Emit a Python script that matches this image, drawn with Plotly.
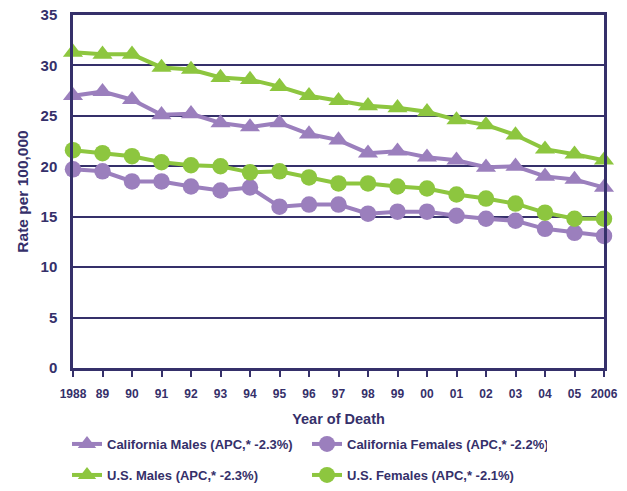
import plotly.graph_objects as go

years = list(range(1988, 2007))
year_labels = ["1988", "89", "90", "91", "92", "93", "94", "95", "96", "97",
               "98", "99", "00", "01", "02", "03", "04", "05", "2006"]

ca_males = [27.0, 27.4, 26.6, 25.1, 25.2, 24.3, 23.9, 24.3, 23.2, 22.6,
            21.3, 21.5, 20.9, 20.6, 19.9, 20.0, 19.0, 18.7, 17.9]
ca_females = [19.7, 19.5, 18.5, 18.5, 18.0, 17.6, 17.9, 16.0, 16.2, 16.2,
              15.3, 15.5, 15.5, 15.1, 14.8, 14.6, 13.8, 13.4, 13.1]
us_males = [31.3, 31.1, 31.1, 29.8, 29.6, 28.8, 28.6, 27.9, 27.0, 26.5,
            26.0, 25.8, 25.4, 24.6, 24.1, 23.1, 21.7, 21.2, 20.6]
us_females = [21.6, 21.3, 21.0, 20.4, 20.1, 20.0, 19.4, 19.5, 18.9, 18.3,
              18.3, 18.0, 17.8, 17.2, 16.8, 16.3, 15.4, 14.8, 14.8]

series_names = ["California Males (APC,* -2.3%)", "California Females (APC,* -2.2%)",
                "U.S. Males (APC,* -2.3%)", "U.S. Females (APC,* -2.1%)"]

PURPLE = "#9b7fbd"
GREEN = "#8dc63f"
NAVY = "#35306a"
FONT = "Liberation Sans, Arial, sans-serif"

W, H = 627, 491

fig = go.Figure()
specs = [
    (ca_males, series_names[0], PURPLE, "triangle-up", 17.5, "legend"),
    (ca_females, series_names[1], PURPLE, "circle", 16.5, "legend"),
    (us_males, series_names[2], GREEN, "triangle-up", 17.5, "legend2"),
    (us_females, series_names[3], GREEN, "circle", 16.5, "legend2"),
]
for vals, name, col, sym, sz, lg in specs:
    fig.add_trace(go.Scatter(
        x=years, y=vals, name=name, mode="lines+markers",
        line=dict(color=col, width=4),
        marker=dict(symbol=sym, size=sz, color=col),
        cliponaxis=False, legend=lg,
    ))

legend_common = dict(
    orientation="h", xanchor="left", yanchor="middle",
    xref="container", yref="container",
    font=dict(family=FONT, size=13, color=NAVY, weight="bold"),
    entrywidth=195, entrywidthmode="pixels", itemwidth=30,
    bgcolor="rgba(0,0,0,0)", traceorder="normal",
)

fig.update_layout(
    width=W, height=H,
    margin=dict(l=73, r=23, t=15, b=123, autoexpand=False),
    paper_bgcolor="white", plot_bgcolor="white",
    font=dict(family=FONT, color=NAVY),
    showlegend=True,
    legend=dict(x=67 / W, y=1 - 444 / H, **legend_common),
    legend2=dict(x=67 / W, y=1 - 475 / H, **legend_common),
    xaxis=dict(
        range=[1988, 2006], tickvals=years, ticktext=year_labels,
        showgrid=False, zeroline=False, automargin=False,
        showline=True, linecolor=NAVY, linewidth=2.5, mirror=True,
        ticks="outside", ticklen=6, tickwidth=2, tickcolor=NAVY,
        ticklabelstandoff=7, ticklabeloverflow="allow",
        tickfont=dict(family=FONT, size=12, color=NAVY, weight="bold"),
        title=dict(text="Year of Death", standoff=14,
                   font=dict(family=FONT, size=14.5, color=NAVY, weight="bold")),
    ),
    yaxis=dict(
        range=[0, 35], tickvals=[0, 5, 10, 15, 20, 25, 30, 35],
        showgrid=True, gridcolor=NAVY, gridwidth=1.5, zeroline=False,
        automargin=False,
        showline=True, linecolor=NAVY, linewidth=2.5, mirror=True,
        ticks="", ticklabelstandoff=10, ticklabeloverflow="allow",
        tickfont=dict(family=FONT, size=15, color=NAVY, weight="bold"),
        title=dict(text="Rate per 100,000", standoff=9,
                   font=dict(family=FONT, size=15.5, color=NAVY, weight="bold")),
    ),
)

fig.write_html("out.html",
               config={"displayModeBar": False},
               post_script="document.body.style.margin='0';document.body.style.overflow='hidden';")
